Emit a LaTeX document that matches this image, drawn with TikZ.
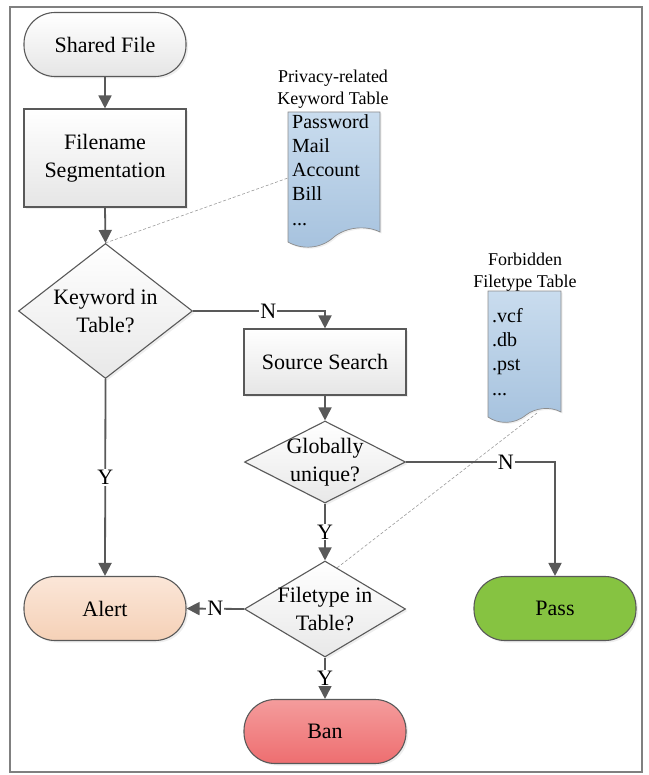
\documentclass[tikz,border=0pt]{standalone}
\usepackage{fontspec}
\setmainfont{Liberation Serif}
\usetikzlibrary{arrows.meta,shapes.geometric,shadows,calc}
\definecolor{ln}{HTML}{595959}
\definecolor{frm}{HTML}{808080}
\definecolor{alertTop}{HTML}{FBE6D8}
\definecolor{alertBot}{HTML}{F5D1B7}
\definecolor{passC}{HTML}{86C341}
\definecolor{banTop}{HTML}{F49C9C}
\definecolor{banBot}{HTML}{EE6E70}
\definecolor{docTop}{HTML}{C9DCEE}
\definecolor{docBot}{HTML}{A6C2DE}
\definecolor{dashc}{HTML}{9A9A9A}
\begin{document}
\begin{tikzpicture}[x=1pt,y=-1pt,
  mainfont/.style={font=\fontsize{22}{28}\selectfont},
  shad/.style={drop shadow={shadow xshift=2pt,shadow yshift=-2pt,fill=black!13}},
  base/.style={draw=ln, line width=1.1pt, mainfont, align=center, inner sep=2pt, shad},
  term/.style={base, rectangle, rounded corners=31pt, minimum width=162pt, minimum height=64pt},
  procbox/.style={base, rectangle, minimum width=162pt, top color=white, bottom color=black!10},
  decision/.style={base, diamond, inner sep=0pt, top color=white, bottom color=black!9},
  dlabel/.style={mainfont, align=center, inner sep=0pt},
  arr/.style={draw=ln, line width=1.8pt, -{Triangle[length=13pt,width=13pt]}},
  lbl/.style={mainfont, fill=white, inner sep=1pt},
  doc/.style={draw=black!45, line width=0.7pt, top color=docTop, bottom color=docBot,
     drop shadow={shadow xshift=1.5pt,shadow yshift=-1.5pt,fill=black!12}},
  small/.style={font=\fontsize{18}{22}\selectfont, align=center},
  entry/.style={font=\fontsize{20}{24.3}\selectfont, align=left, inner sep=0pt, anchor=north west},
  dline/.style={draw=dashc, line width=0.6pt, dash pattern=on 3pt off 2pt}
]
\useasboundingbox (0,0) rectangle (648,775);
\draw[frm, line width=1.6pt] (10,7) rectangle (642,772);

% documents
\path[doc] (288,112) -- (380,112) -- (380,232)
  .. controls (366,225) and (346,227) .. (334,237)
  .. controls (321,249) and (302,250) .. (288,242) -- cycle;
\node[entry] (kwlist) at (292,114) {Password\\Mail\\Account\\Bill\\...};
\node[small] (kwtitle) at (333,89) {Privacy-related\\Keyword Table};
\coordinate (kwdoc) at (288,178);

\path[doc] (488,291) -- (561,291) -- (561,412)
  .. controls (550,406) and (535,408) .. (526,415)
  .. controls (514,425) and (498,424) .. (488,417) -- cycle;
\node[entry] (ftlist) at (492,308) {.vcf\\.db\\.pst\\...};
\node[small] (fttitle) at (525,272) {Forbidden\\Filetype Table};
\coordinate (ftdoc) at (537,413);

% main nodes
\node[term, top color=white, bottom color=black!10] (sf) at (105,44.5) {Shared File};
\node[procbox, minimum height=98pt] (fs) at (105,158) {Filename\\Segmentation};
\node[decision, minimum width=174pt, minimum height=135pt] (kw) at (105.5,311) {};
\node[dlabel] at (kw.center) {Keyword in\\Table?};
\node[procbox, minimum height=66pt] (ss) at (325,362) {Source Search};
\node[decision, minimum width=161pt, minimum height=82pt] (gu) at (325,462) {};
\node[dlabel] at (gu.center) {Globally\\unique?};
\node[decision, minimum width=161pt, minimum height=96pt] (ft) at (325,609) {};
\node[dlabel] at (ft.center) {Filetype in\\Table?};
\node[term, top color=alertTop, bottom color=alertBot] (al) at (105,608.5) {Alert};
\node[term, fill=passC] (ps) at (555,608.5) {Pass};
\node[term, top color=banTop, bottom color=banBot] (bn) at (325,731.5) {Ban};

% dashed associations
\draw[dline] (kw.north) -- (kwdoc);
\draw[dline] ($(ft.north)!0.15!(ft.east)$) -- (ftdoc);

% connectors
\draw[arr] (sf.south) -- (fs.north);
\draw[arr] (fs.south) -- (kw.north);
\draw[arr] (kw.east) -- node[lbl, pos=0.57]{N} (kw.east -| ss.north) -- (ss.north);
\draw[arr] (ss.south) -- (gu.north);
\draw[arr] (gu.east) -- node[lbl, pos=0.67]{N} (gu.east -| ps.north) -- (ps.north);
\draw[arr] (gu.south) -- node[lbl]{Y} (ft.north);
\draw[arr] (ft.west) -- node[lbl]{N} (al.east);
\draw[arr] (ft.south) -- node[lbl]{Y} (bn.north);
\draw[arr] (kw.south) -- node[lbl]{Y} (al.north);
\end{tikzpicture}
\end{document}
